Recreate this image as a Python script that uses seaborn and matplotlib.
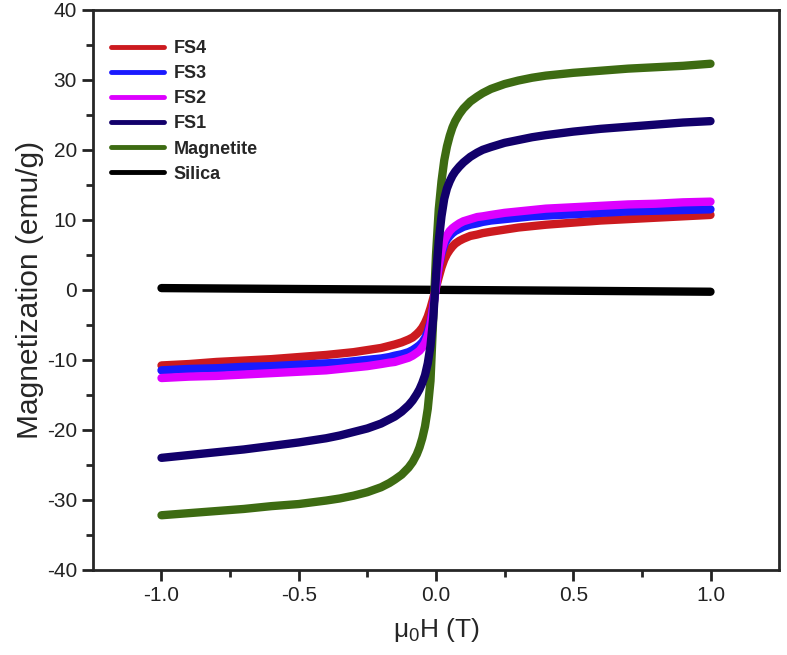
import pandas as pd
import seaborn as sns
import matplotlib.pyplot as plt

# field values (T)
field = [-1.0, -0.9, -0.8, -0.7, -0.6, -0.5, -0.4, -0.35, -0.3, -0.25, -0.2, -0.17, -0.15,
         -0.125, -0.1, -0.085, -0.07, -0.06, -0.05, -0.04, -0.03, -0.02, -0.01,
         0.0,
         0.01, 0.02, 0.03, 0.04, 0.05, 0.06, 0.07, 0.085, 0.1, 0.125, 0.15, 0.17, 0.2,
         0.25, 0.3, 0.35, 0.4, 0.5, 0.6, 0.7, 0.8, 0.9, 1.0]

# magnetization (emu/g) per sample
fs4 = [-10.8, -10.6, -10.3, -10.1, -9.9, -9.6, -9.3, -9.1, -8.9, -8.6, -8.3, -8.0, -7.8,
       -7.5, -7.1, -6.8, -6.3, -5.9, -5.4, -4.7, -3.8, -2.6, -1.2,
       0.3,
       1.8, 3.2, 4.3, 5.1, 5.7, 6.2, 6.6, 7.0, 7.3, 7.7, 7.9, 8.1, 8.3,
       8.6, 8.9, 9.1, 9.3, 9.6, 9.9, 10.1, 10.3, 10.5, 10.7]
fs3 = [-11.5, -11.3, -11.2, -11.0, -10.9, -10.7, -10.5, -10.4, -10.2, -10.0, -9.8, -9.6, -9.4,
       -9.2, -8.9, -8.6, -8.2, -7.9, -7.5, -6.9, -6.0, -4.6, -2.3,
       0.5,
       3.3, 5.2, 6.5, 7.2, 7.7, 8.1, 8.4, 8.7, 9.0, 9.3, 9.5, 9.7, 9.9,
       10.1, 10.3, 10.5, 10.6, 10.8, 11.0, 11.2, 11.3, 11.4, 11.5]
fs2 = [-12.6, -12.4, -12.3, -12.1, -11.9, -11.7, -11.5, -11.3, -11.1, -10.9, -10.6, -10.4, -10.3,
       -10.0, -9.7, -9.4, -9.0, -8.7, -8.2, -7.6, -6.6, -5.0, -2.5,
       0.5,
       3.5, 5.6, 7.0, 7.8, 8.4, 8.8, 9.1, 9.5, 9.8, 10.1, 10.4, 10.5, 10.7,
       11.0, 11.2, 11.4, 11.6, 11.8, 12.0, 12.2, 12.3, 12.5, 12.6]
fs1 = [-24.0, -23.6, -23.2, -22.8, -22.3, -21.8, -21.2, -20.8, -20.3, -19.8, -19.1, -18.5, -18.1,
       -17.4, -16.5, -15.8, -14.9, -14.2, -13.3, -12.2, -10.5, -8.0, -4.0,
       2.0,
       7.0, 10.5, 13.0, 14.5, 15.5, 16.3, 16.9, 17.6, 18.2, 19.0, 19.6, 20.0, 20.4,
       21.0, 21.4, 21.8, 22.1, 22.6, 23.0, 23.3, 23.6, 23.9, 24.1]
magnetite = [-32.2, -31.9, -31.6, -31.3, -30.9, -30.6, -30.1, -29.8, -29.4, -28.9, -28.2, -27.6, -27.1,
             -26.4, -25.4, -24.6, -23.5, -22.5, -21.2, -19.5, -17.0, -13.0, -4.0,
             5.0,
             11.5, 15.5, 18.5, 20.5, 22.0, 23.2, 24.1, 25.1, 25.9, 26.9, 27.6, 28.1, 28.7,
             29.4, 29.9, 30.3, 30.6, 31.0, 31.3, 31.6, 31.8, 32.0, 32.3]

silica_field = [-1.0, -0.5, 0.0, 0.5, 1.0]
silica = [0.25, 0.12, 0.0, -0.13, -0.27]

labels = ['FS4', 'FS3', 'FS2', 'FS1', 'Magnetite', 'Silica']
colors = ['#cc1a1f', '#1a1aff', '#dd00ff', '#12006b', '#3d6b12', '#000000']
series = [(field, fs4), (field, fs3), (field, fs2), (field, fs1), (field, magnetite),
          (silica_field, silica)]

sns.set_style('ticks')
plt.rcParams['font.family'] = ['Liberation Sans', 'DejaVu Sans']
plt.rcParams['mathtext.default'] = 'regular'

fig = plt.figure(figsize=(7.87, 6.55), dpi=100)
ax = fig.add_axes([0.118, 0.13, 0.872, 0.855])

# silica first, then magnetite, then the FS samples (FS1 on top)
for i in [5, 4, 0, 1, 2, 3]:
    df = pd.DataFrame({'H': series[i][0], 'M': series[i][1]})
    sns.lineplot(data=df, x='H', y='M', color=colors[i], lw=6, ax=ax,
                 solid_capstyle='round', solid_joinstyle='round')

handles = [plt.Line2D([], [], color=c, lw=3.5, solid_capstyle='round') for c in colors]
ax.legend(handles, labels, loc='upper left', bbox_to_anchor=(0.003, 0.975), frameon=False,
          prop={'weight': 'bold', 'size': 13}, handlelength=2.9, labelspacing=0.45,
          handletextpad=0.55)

ax.set_xlim(-1.25, 1.25)
ax.set_ylim(-40, 40)
ax.set_xticks([-1.0, -0.5, 0.0, 0.5, 1.0])
ax.set_xticklabels(['-1.0', '-0.5', '0.0', '0.5', '1.0'])
ax.set_xticks([-0.75, -0.25, 0.25, 0.75], minor=True)
ax.set_yticks(range(-40, 41, 10))
ax.set_yticklabels([str(v) for v in range(-40, 41, 10)])
ax.set_yticks(range(-35, 40, 10), minor=True)

ax.tick_params(which='major', direction='out', length=8, width=2, labelsize=15, colors='#222222')
ax.tick_params(which='minor', direction='out', length=5, width=2)
for s in ax.spines.values():
    s.set_linewidth(2)
    s.set_visible(True)

ax.set_xlabel('μ$_0$H (T)', fontsize=19, labelpad=8)
ax.set_ylabel('Magnetization (emu/g)', fontsize=21.5, labelpad=2)

fig.savefig('out.png', dpi=100)
